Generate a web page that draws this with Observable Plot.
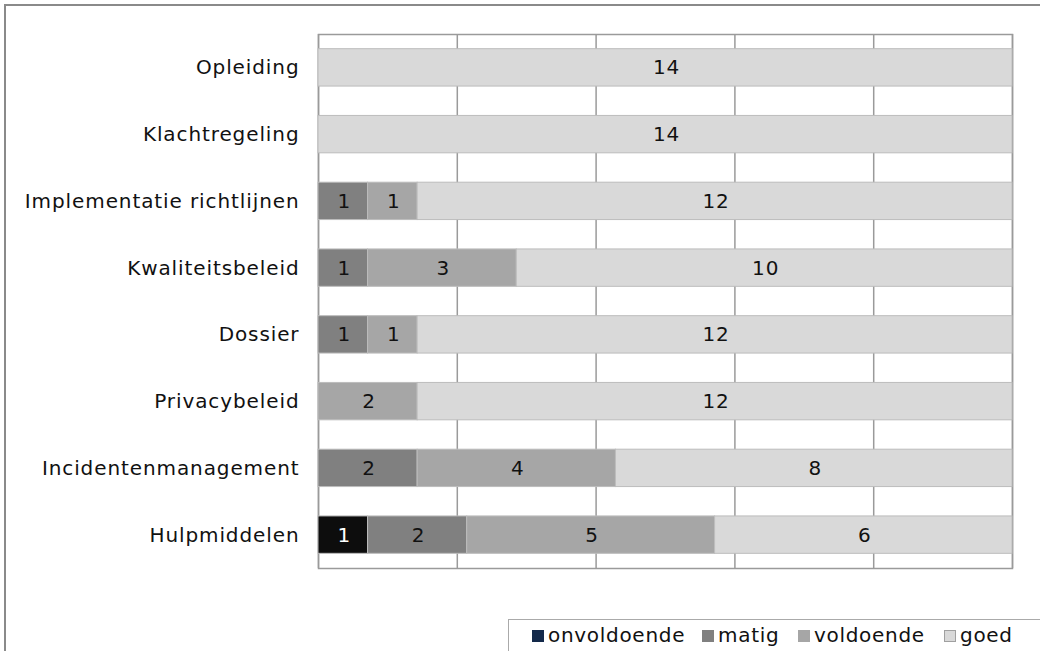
<!DOCTYPE html>
<html><head><meta charset="utf-8">
<script src="https://cdn.jsdelivr.net/npm/d3@7"></script>
<script src="https://cdn.jsdelivr.net/npm/@observablehq/plot@0.6"></script>
<style>
body{margin:0;background:#fff;font-family:"DejaVu Sans",Verdana,sans-serif;}
#wrap{position:relative;width:1040px;height:651px;overflow:hidden;}
#frame{position:absolute;left:4px;top:4px;width:1100px;height:700px;border:2px solid #8a8a8a;box-sizing:border-box;}
#chart{position:absolute;left:0;top:0;}
#chart svg text{letter-spacing:0.9px;}
#legend{position:absolute;left:508px;top:619px;width:600px;height:60px;border:1px solid #aaa;background:#fff;font-size:20px;line-height:20px;color:#111;letter-spacing:0.7px;}
#legend .sw{position:absolute;top:10px;width:12px;height:12px;box-sizing:border-box;}
#legend .tx{position:absolute;top:5px;white-space:nowrap;}
</style></head>
<body><div id="wrap"><div id="frame"></div><div id="chart"></div><div id="legend"></div></div>
<script>
const categories = ["Opleiding","Klachtregeling","Implementatie richtlijnen","Kwaliteitsbeleid","Dossier","Privacybeleid","Incidentenmanagement","Hulpmiddelen"];
const series = ["onvoldoende","matig","voldoende","goed"];
const onvoldoende = [0,0,0,0,0,0,0,1];
const matig       = [0,0,1,1,1,0,2,2];
const voldoende   = [0,0,1,3,1,2,4,5];
const goed        = [14,14,12,10,12,12,8,6];
const barColors = ["#0d0d0d","#808080","#a6a6a6","#d9d9d9"];
const legendColors = ["#13294a","#808080","#a6a6a6","#d9d9d9"];
const gridTicks = [0,2.8,5.6,8.4,11.2,14];

const values = [onvoldoende, matig, voldoende, goed];
const data = [];
series.forEach((s, si) => categories.forEach((c, ci) => {
  if (values[si][ci] > 0) data.push({cat: c, series: s, value: values[si][ci]});
}));

const FS = 20;
const chart = Plot.plot({
  width: 1040, height: 600,
  marginLeft: 318, marginRight: 28, marginTop: 34, marginBottom: 32,
  style: {fontFamily: '"DejaVu Sans",Verdana,sans-serif', fontSize: FS + "px", color: "#000", background: "transparent"},
  x: {domain: [0, 14], axis: null},
  y: {domain: categories, paddingInner: 0.44, paddingOuter: 0.22, round: false, label: null, axis: null},
  color: {domain: series, range: barColors},
  marks: [
    Plot.ruleX(gridTicks, {stroke: "#9a9a9a", strokeWidth: 1.5}),
    Plot.frame({stroke: "#9a9a9a", strokeWidth: 1.5}),
    Plot.barX(data, Plot.stackX({x: "value", y: "cat", fill: "series", order: series, stroke: "#bcbcbc", strokeWidth: 1})),
    Plot.text(data, Plot.stackX({x: "value", y: "cat", z: "series", order: series, text: d => String(d.value),
      fill: d => d.series === "onvoldoende" ? "#fff" : "#111", fontSize: FS, dx: 1})),
    Plot.axisY({tickSize: 0, tickPadding: 19, fontSize: FS, label: null, fill: "#111"})
  ]
});
document.getElementById("chart").appendChild(chart);

const legend = document.getElementById("legend");
const lx = [23, 193, 289, 435];
series.forEach((s, i) => {
  const sw = document.createElement("div");
  sw.className = "sw";
  sw.style.left = lx[i] + "px";
  sw.style.background = legendColors[i];
  sw.style.border = "1px solid " + (i === 3 ? "#a0a0a0" : legendColors[i]);
  legend.appendChild(sw);
  const tx = document.createElement("div");
  tx.className = "tx";
  tx.style.left = (lx[i] + 16) + "px";
  tx.textContent = s;
  legend.appendChild(tx);
});
</script></body></html>
